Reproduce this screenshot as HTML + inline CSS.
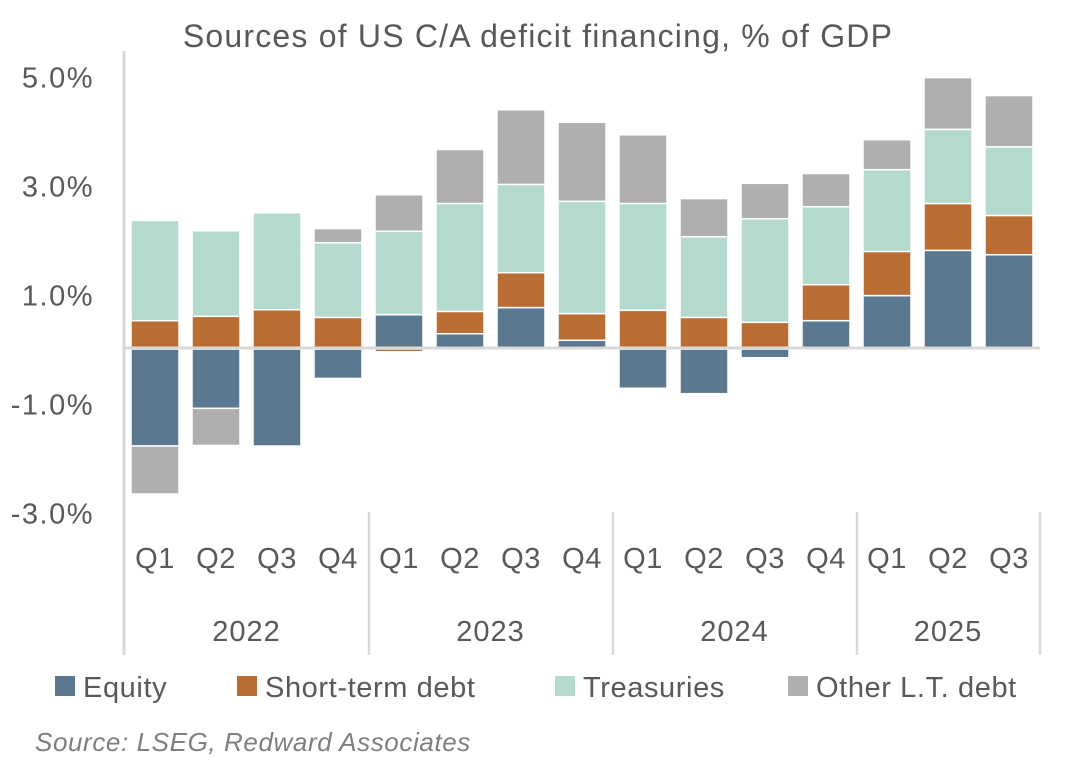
<!DOCTYPE html>
<html><head><meta charset="utf-8"><style>
body{margin:0;background:#fff;}
svg text{font-family:"Liberation Sans",sans-serif;fill:#595959;}
</style></head><body>
<svg width="1076" height="761" viewBox="0 0 1076 761">
<text x="538" y="47" font-size="32" letter-spacing="1.2" text-anchor="middle">Sources of US C/A deficit financing, % of GDP</text>
<g id="bars"></g>
<g id="axes"></g>
<g font-size="29" letter-spacing="0.6">
<rect x="55" y="676" width="20" height="20" fill="#5a7890"/>
<text x="83" y="697">Equity</text>
<rect x="237" y="676" width="20" height="20" fill="#b96d32"/>
<text x="265" y="697">Short-term debt</text>
<rect x="555" y="676" width="20" height="20" fill="#b3dacd"/>
<text x="583" y="697">Treasuries</text>
<rect x="788" y="676" width="20" height="20" fill="#afafaf"/>
<text x="816" y="697">Other L.T. debt</text>
</g>
<text x="35" y="751" font-size="26" letter-spacing="0.6" font-style="italic" style="fill:#7f7f7f">Source: LSEG, Redward Associates</text>
</svg>
<script>
const quarters=["Q1","Q2","Q3","Q4","Q1","Q2","Q3","Q4","Q1","Q2","Q3","Q4","Q1","Q2","Q3"];
const years=["2022","2023","2024","2025"];
const equity=[-1.78,-1.09,-1.78,-0.54,0.63,0.28,0.76,0.16,-0.72,-0.82,-0.16,0.52,0.98,1.81,1.73];
const shortTerm=[0.52,0.60,0.72,0.58,-0.05,0.41,0.64,0.49,0.71,0.58,0.49,0.66,0.81,0.86,0.72];
const treasuries=[1.84,1.57,1.78,1.37,1.53,1.98,1.62,2.06,1.96,1.48,1.90,1.43,1.50,1.36,1.26];
const otherLT=[-0.88,-0.68,0,0.26,0.67,0.99,1.37,1.45,1.26,0.70,0.65,0.61,0.55,0.95,0.94];
const yTicks=[5,3,1,-1,-3];
const yTickLabels=["5.0%","3.0%","1.0%","-1.0%","-3.0%"];

const NS="http://www.w3.org/2000/svg";
const zeroY=349, pxPer=54.5, x0=155, step=61, bw=48;
const y=v=>zeroY-v*pxPer;
const x=i=>x0+i*step;
const bars=document.getElementById('bars');
const axes=document.getElementById('axes');
function mk(tag,attrs,parent){const e=document.createElementNS(NS,tag);for(const k in attrs)e.setAttribute(k,attrs[k]);parent.appendChild(e);return e;}
const series=[[equity,"#5a7890","equity"],[shortTerm,"#b96d32","short-term"],[treasuries,"#b3dacd","treasuries"],[otherLT,"#afafaf","other-lt"]];
quarters.forEach((q,i)=>{
  let pos=0,neg=0;
  series.forEach(([arr,col,nm])=>{
    const v=arr[i]; if(!v)return;
    let a,b;
    if(v>=0){a=pos;b=pos+v;pos=b;}else{a=neg;b=neg+v;neg=b;}
    const top=y(Math.max(a,b)),bot=y(Math.min(a,b));
    const r=mk('rect',{x:x(i)-bw/2,y:top,width:bw,height:Math.max(bot-top,0.5),fill:col,stroke:"#fff","stroke-width":1.5},bars);
    
    
  });
});
let l=mk('line',{x1:124,x2:1040,y1:zeroY-1,y2:zeroY-1,stroke:"#d9d9d9","stroke-width":3},axes);


l=mk('line',{x1:124,x2:124,y1:51,y2:655,stroke:"#d9d9d9","stroke-width":3},axes);


[369,613,857,1040].forEach(xx=>{
  const s=mk('line',{x1:xx,x2:xx,y1:512,y2:655,stroke:"#d9d9d9","stroke-width":2.5},axes);
  
  
});
yTicks.forEach((t,i)=>{
  const tx=mk('text',{x:94,y:y(t)+11,"font-size":29,"letter-spacing":1.5,"text-anchor":"end"},axes);
  tx.textContent=yTickLabels[i];
  
  
});
quarters.forEach((q,i)=>{
  const tx=mk('text',{x:x(i),y:568,"font-size":29,"letter-spacing":0.5,"text-anchor":"middle"},axes);
  tx.textContent=q;
  
  
});
years.forEach((yr,j)=>{
  const first=j*4,last=Math.min(first+3,quarters.length-1);
  const tx=mk('text',{x:(x(first)+x(last))/2,y:641,"font-size":29,"letter-spacing":1,"text-anchor":"middle"},axes);
  tx.textContent=yr;
  
  
});
</script>
</body></html>
